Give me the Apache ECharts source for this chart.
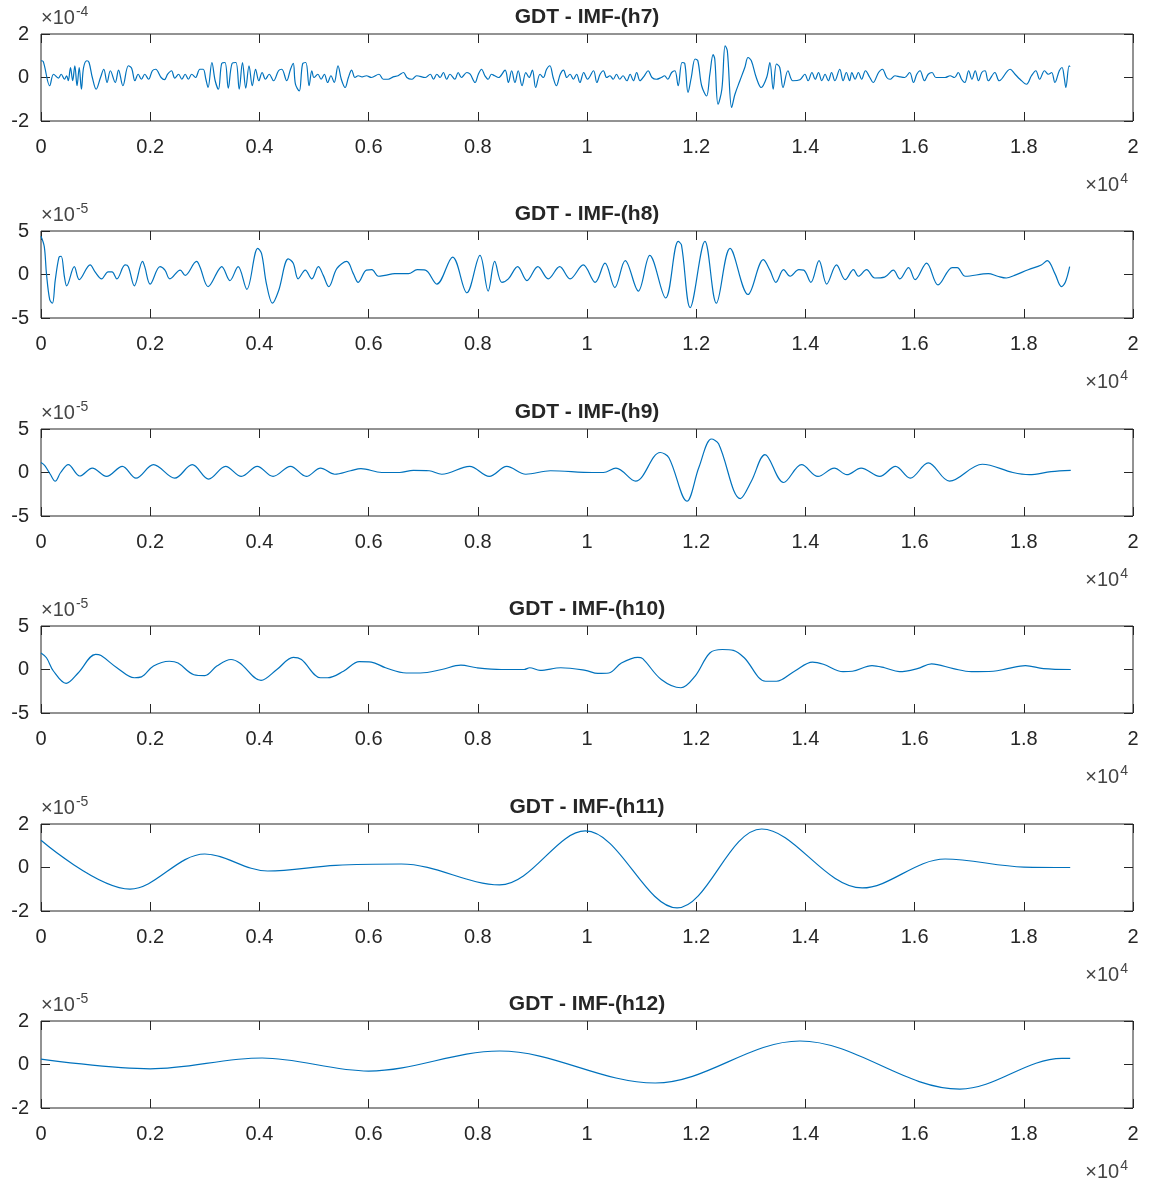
<!DOCTYPE html>
<html>
<head>
<meta charset="utf-8">
<title>GDT - IMF h7..h12</title>
<script src="https://cdn.jsdelivr.net/npm/echarts@6/dist/echarts.min.js"></script>
<style>
html, body { margin: 0; padding: 0; background: #fff; }
#chart { width: 1154px; height: 1187px; }
</style>
</head>
<body>
<div id="chart"></div>
<script>
// x in units of 1e4 samples, y in the units shown on each axis (x1e-4 or x1e-5)
const titles = ['GDT - IMF-(h7)', 'GDT - IMF-(h8)', 'GDT - IMF-(h9)', 'GDT - IMF-(h10)', 'GDT - IMF-(h11)', 'GDT - IMF-(h12)'];
const yExponents = ['-4', '-5', '-5', '-5', '-5', '-5'];
const yLimits = [2, 5, 5, 5, 2, 2];
const xExponent = '4';

const h7 = [[0,0.77],[0.004,0.74],[0.016,-0.38],[0.023,0.15],[0.032,-0.03],[0.037,0.15],[0.043,-0.08],[0.047,0.08],[0.050,-0.15],[0.054,0.46],[0.058,-0.15],[0.062,0.54],[0.066,-0.38],[0.070,0.46],[0.074,-0.54],[0.078,0.46],[0.084,0.77],[0.088,0.69],[0.094,0],[0.101,-0.54],[0.109,0],[0.115,0.38],[0.121,-0.23],[0.127,0.31],[0.136,-0.23],[0.142,0.34],[0.150,-0.38],[0.160,0.54],[0.166,0.43],[0.172,-0.15],[0.178,0.15],[0.184,-0.08],[0.190,0.15],[0.197,-0.08],[0.204,0.31],[0.210,0.38],[0.220,0],[0.226,-0.1],[0.232,0.15],[0.239,0.31],[0.245,-0.03],[0.252,0.15],[0.258,-0.08],[0.264,0.15],[0.270,-0.08],[0.276,0.15],[0.283,0],[0.291,0.38],[0.297,0.38],[0.302,-0.08],[0.306,-0.46],[0.313,0.69],[0.319,-0.15],[0.325,-0.54],[0.331,0.65],[0.337,0.69],[0.343,-0.49],[0.350,0.65],[0.357,0.69],[0.363,-0.54],[0.369,0.69],[0.375,-0.49],[0.381,0.54],[0.387,-0.38],[0.393,0.38],[0.399,-0.15],[0.405,0.23],[0.411,-0.08],[0.418,0.15],[0.426,-0.15],[0.435,0.31],[0.441,0.38],[0.450,-0.15],[0.457,0.38],[0.462,0.65],[0.466,-0.31],[0.473,-0.62],[0.479,0.62],[0.485,0.69],[0.491,-0.38],
  [0.496,0.31],[0.500,0],[0.507,0.15],[0.513,-0.08],[0.519,0.15],[0.525,-0.23],[0.531,0.08],[0.537,-0.23],[0.544,0.54],[0.550,-0.08],[0.557,-0.46],[0.563,0],[0.569,0.34],[0.575,0],[0.581,0.08],[0.588,0.03],[0.596,0.08],[0.605,0],[0.619,0.15],[0.627,-0.08],[0.636,-0.08],[0.645,0.03],[0.654,0.08],[0.664,0.23],[0.670,0],[0.679,-0.08],[0.688,0.08],[0.704,0],[0.713,0.15],[0.719,-0.08],[0.725,0.15],[0.731,0],[0.737,0.23],[0.743,-0.08],[0.749,0.15],[0.758,-0.08],[0.764,0.23],[0.770,0],[0.780,0.23],[0.786,0.15],[0.795,-0.23],[0.801,0.15],[0.807,0.38],[0.813,0.08],[0.819,-0.08],[0.825,0.15],[0.831,0.08],[0.838,0],[0.850,0.34],[0.856,-0.23],[0.862,0.31],[0.868,-0.23],[0.874,0.31],[0.881,-0.38],[0.888,0.23],[0.894,0],[0.900,0.34],[0.906,-0.46],[0.914,0.15],[0.920,0],[0.926,0.38],[0.932,0.54],[0.938,0],[0.944,-0.38],[0.951,0.15],[0.957,0.34],[0.963,0],[0.969,0.15],[0.975,-0.08],[0.981,0.15],[0.987,-0.23],[0.994,0.23],
  [1.001,-0.08],[1.012,0.31],[1.018,-0.23],[1.024,0.15],[1.030,0.31],[1.036,0],[1.042,0.08],[1.048,-0.08],[1.054,0.15],[1.060,-0.08],[1.066,0.08],[1.073,-0.15],[1.079,0.15],[1.085,-0.15],[1.091,0.23],[1.097,-0.15],[1.105,0.08],[1.112,0.31],[1.119,0],[1.127,-0.08],[1.136,0],[1.142,0.08],[1.148,-0.08],[1.155,0.23],[1.161,0.31],[1.167,-0.38],[1.174,0.69],[1.179,0.65],[1.185,-0.69],[1.191,0],[1.198,0.85],[1.203,0.77],[1.210,-0.38],[1.219,-0.85],[1.225,0.15],[1.231,1.05],[1.234,0.85],[1.240,-1.23],[1.247,-0.54],[1.253,1.46],[1.257,1.23],[1.265,-1.38],[1.271,-0.77],[1.280,-0.15],[1.289,0.46],[1.295,0.92],[1.301,0.77],[1.310,0],[1.319,-0.46],[1.329,0],[1.335,0.69],[1.341,-0.54],[1.347,0.62],[1.353,0.46],[1.359,-0.46],[1.368,0.31],[1.377,-0.15],[1.390,-0.1],[1.399,0.15],[1.405,-0.15],[1.412,0.23],[1.418,-0.08],[1.424,0.23],[1.430,-0.15],[1.436,0.15],[1.442,-0.15],[1.448,0.23],[1.454,-0.15],[1.463,0.38],[1.469,-0.15],[1.475,0.23],[1.481,-0.15],
  [1.485,0.23],[1.491,-0.08],[1.497,0.23],[1.503,-0.08],[1.510,0.31],[1.518,0],[1.524,-0.23],[1.534,0.23],[1.541,0.38],[1.549,0],[1.555,-0.08],[1.564,0.08],[1.573,0.03],[1.582,0],[1.591,0.23],[1.598,-0.23],[1.604,0.15],[1.610,0.31],[1.618,-0.15],[1.625,0.15],[1.632,0.23],[1.639,0],[1.656,0],[1.665,0.08],[1.673,0],[1.680,0.23],[1.686,-0.08],[1.692,-0.23],[1.699,0.31],[1.705,-0.08],[1.711,0.31],[1.717,-0.15],[1.723,0.23],[1.729,0.31],[1.735,-0.15],[1.747,0.23],[1.755,-0.15],[1.775,0.38],[1.784,0.15],[1.793,-0.08],[1.805,-0.31],[1.814,0.08],[1.822,0.31],[1.829,-0.08],[1.838,0.31],[1.845,0.15],[1.851,0.23],[1.857,-0.23],[1.865,0.31],[1.870,0.46],[1.874,0],[1.877,-0.46],[1.883,0.54],[1.885,0.5]];

const h8 = [[0,4.4],[0.006,3.2],[0.010,0.1],[0.016,-2.9],[0.021,-3.3],[0.026,-0.7],[0.033,2.0],[0.037,2.1],[0.043,-0.3],[0.047,-1.3],[0.061,0.9],[0.070,-0.6],[0.090,1.1],[0.099,0.3],[0.111,-0.5],[0.123,0.3],[0.130,0.3],[0.139,-0.5],[0.154,1.1],[0.160,0.9],[0.171,-1.3],[0.186,1.5],[0.190,0.9],[0.200,-1.1],[0.218,0.9],[0.227,0.5],[0.236,-0.5],[0.255,0.5],[0.264,-0.1],[0.285,1.5],[0.291,0.9],[0.306,-1.4],[0.325,0.5],[0.331,0.9],[0.346,-0.7],[0.361,0.9],[0.377,-1.7],[0.397,3.0],[0.404,2.4],[0.413,-1.1],[0.424,-3.3],[0.435,-1.9],[0.453,1.8],[0.462,1.3],[0.471,-0.5],[0.484,0.5],[0.496,-0.5],[0.508,0.9],[0.517,-0.1],[0.527,-1.4],[0.542,0.7],[0.560,1.5],[0.572,0.1],[0.581,-0.9],[0.596,0.5],[0.606,0.55],[0.618,-0.2],[0.630,-0.1],
  [0.648,0.1],[0.673,0.1],[0.689,0.55],[0.704,0.5],[0.725,-1.1],[0.754,2.0],[0.780,-2.1],[0.804,2.2],[0.819,-1.9],[0.831,1.5],[0.844,-0.9],[0.856,-0.5],[0.873,0.9],[0.890,-0.7],[0.910,0.9],[0.929,-0.5],[0.950,0.9],[0.969,-0.5],[0.993,1.1],[1.015,-0.9],[1.033,1.3],[1.051,-1.5],[1.070,1.6],[1.094,-1.9],[1.115,2.2],[1.144,-2.7],[1.167,3.8],[1.173,3.4],[1.189,-3.8],[1.216,3.8],[1.237,-3.3],[1.262,3.0],[1.295,-2.3],
  [1.323,1.7],[1.335,0.5],[1.346,-0.9],[1.360,0.55],[1.372,-0.2],[1.388,0.55],[1.397,0.5],[1.410,-0.9],[1.425,1.6],[1.439,-1.1],[1.457,1.1],[1.473,-0.6],[1.488,0.55],[1.497,-0.2],[1.512,0.55],[1.527,-0.4],[1.545,-0.3],[1.561,0.5],[1.573,-0.5],[1.589,0.8],[1.601,-0.6],[1.622,1.3],[1.643,-1.2],[1.669,0.8],[1.678,0.8],[1.693,-0.2],[1.735,0.1],[1.752,-0.2],[1.768,-0.4],[1.783,-0.1],[1.808,0.55],[1.832,1.1],[1.843,1.6],[1.857,0.1],[1.869,-1.4],[1.876,-0.9],[1.884,0.9]];

const h9 = [[0,1.15],[0.007,0.8],[0.017,-0.2],[0.026,-1.0],[0.036,0],[0.050,0.9],[0.071,-0.4],[0.094,0.5],[0.120,-0.45],[0.149,0.7],[0.174,-0.65],[0.206,0.9],[0.245,-0.65],[0.277,0.9],[0.307,-0.75],[0.338,0.7],[0.367,-0.45],[0.396,0.7],[0.425,-0.45],[0.457,0.7],[0.486,-0.45],[0.512,0.5],[0.538,-0.2],[0.567,0.2],[0.586,0.45],[0.624,0],[0.657,0],[0.682,0.25],[0.711,0.2],[0.734,-0.2],[0.785,0.7],[0.821,-0.45],[0.853,0.7],[0.888,-0.2],[0.933,0.2],
  [1.010,0],[1.030,0],[1.053,0.5],[1.089,-1.0],[1.134,2.3],[1.150,1.7],[1.183,-3.3],[1.205,0.6],[1.228,3.85],[1.241,3.3],[1.281,-3.0],[1.301,-1.0],[1.326,2.05],[1.360,-1.15],[1.393,0.9],[1.423,-0.45],[1.453,0.5],[1.476,-0.25],[1.502,0.5],[1.536,-0.45],[1.565,0.7],[1.592,-0.65],[1.625,1.1],[1.664,-1.0],[1.724,0.95],[1.780,0],[1.810,-0.25],[1.850,0.1],[1.886,0.25]];

const h10 = [[0,1.9],[0.010,1.35],[0.023,-0.2],[0.046,-1.6],[0.068,-0.4],[0.100,1.75],[0.110,1.6],[0.139,0.2],[0.171,-0.95],[0.184,-0.85],[0.206,0.4],[0.235,0.95],[0.251,0.75],[0.280,-0.6],[0.300,-0.7],[0.322,0.4],[0.348,1.15],[0.364,0.75],[0.403,-1.25],[0.432,0],[0.462,1.4],[0.477,1.15],[0.512,-0.95],[0.525,-0.95],[0.554,-0.2],[0.583,0.9],[0.605,0.85],[0.631,0.2],[0.669,-0.4],[0.695,-0.4],[0.734,0],[0.769,0.5],[0.798,0.2],[0.843,0],[0.885,0],[0.895,0.2],[0.914,-0.1],[0.952,0.2],
  [0.997,-0.1],[1.020,-0.45],[1.040,-0.4],[1.063,0.75],[1.093,1.4],[1.102,1.25],[1.136,-1.15],[1.172,-2.1],[1.198,-0.75],[1.225,1.9],[1.248,2.3],[1.268,2.2],[1.288,1.35],[1.327,-1.35],[1.347,-1.35],[1.380,-0.2],[1.413,0.85],[1.433,0.6],[1.469,-0.25],[1.486,-0.2],[1.522,0.45],[1.545,0.2],[1.572,-0.25],[1.605,0.1],[1.631,0.65],[1.671,0.1],[1.704,-0.25],[1.744,-0.2],[1.770,0.1],[1.803,0.45],[1.836,0.1],[1.886,0]];

const h11 = [[0,1.25],[0.163,-0.99],[0.30,0.62],[0.415,-0.16],[0.54,0.1],[0.66,0.16],[0.84,-0.8],[0.997,1.68],[1.165,-1.86],[1.32,1.77],[1.504,-0.94],[1.656,0.39],[1.80,0.02],[1.885,0]];

const h12 = [[0,0.25],[0.2,-0.2],[0.405,0.3],[0.60,-0.3],[0.84,0.62],[1.125,-0.85],[1.39,1.08],[1.683,-1.13],[1.87,0.28],[1.885,0.28]];

const allSeries = [h7, h8, h9, h10, h11, h12];

const chart = echarts.init(document.getElementById('chart'));
const axisColor = '#262626';
const font = 'Liberation Sans, Arial, Helvetica, sans-serif';
const gridLeft = 41, gridWidth = 1092, gridHeight = 87, firstTop = 34, step = 197.4;

const grids = [], xAxes = [], yAxes = [], series = [], graphics = [];
for (let i = 0; i < 6; i++) {
    const top = Math.round(firstTop + i * step);
    const lim = yLimits[i];
    grids.push({
        left: gridLeft, top: top, width: gridWidth, height: gridHeight,
        show: true, borderColor: axisColor, borderWidth: 1
    });
    const tick = { show: true, inside: true, length: 9, lineStyle: { color: axisColor, width: 1 } };
    const noLine = { show: false, onZero: false };
    // bottom axis with labels, top axis only mirrors the ticks
    xAxes.push({
        gridIndex: i, type: 'value', min: 0, max: 2, interval: 0.2, position: 'bottom',
        axisLine: noLine, axisTick: tick, splitLine: { show: false },
        axisLabel: { color: axisColor, fontSize: 20, fontFamily: font, margin: 16 }
    });
    xAxes.push({
        gridIndex: i, type: 'value', min: 0, max: 2, interval: 0.2, position: 'top',
        axisLine: noLine, axisTick: tick, splitLine: { show: false },
        axisLabel: { show: false }
    });
    yAxes.push({
        gridIndex: i, type: 'value', min: -lim, max: lim, interval: lim, position: 'left',
        axisLine: noLine, axisTick: tick, splitLine: { show: false },
        axisLabel: { color: axisColor, fontSize: 20, fontFamily: font, margin: 12 }
    });
    yAxes.push({
        gridIndex: i, type: 'value', min: -lim, max: lim, interval: lim, position: 'right',
        axisLine: noLine, axisTick: tick, splitLine: { show: false },
        axisLabel: { show: false }
    });
    series.push({
        type: 'line', xAxisIndex: 2 * i, yAxisIndex: 2 * i,
        data: allSeries[i], showSymbol: false, smooth: 0.35,
        lineStyle: { color: '#0072BD', width: 1.2 },
        animation: false
    });

    // title
    graphics.push({
        type: 'text', x: gridLeft + gridWidth / 2, y: top - 17,
        style: {
            text: titles[i], fill: axisColor, align: 'center', verticalAlign: 'middle',
            font: 'bold 21px ' + font
        }
    });
    // y exponent (top left)
    graphics.push({
        type: 'text', x: gridLeft, y: top - 6,
        style: {
            text: '{b|×10}{s|' + yExponents[i] + '}', align: 'left', verticalAlign: 'bottom',
            rich: {
                b: { fontSize: 20, fontFamily: font, fill: '#444', verticalAlign: 'bottom' },
                s: { fontSize: 14, fontFamily: font, fill: '#444', verticalAlign: 'bottom', padding: [0, 0, 9, 1] }
            }
        }
    });
    // x exponent (bottom right)
    graphics.push({
        type: 'text', x: gridLeft + gridWidth - 5, y: top + gridHeight + 74,
        style: {
            text: '{b|×10}{s|' + xExponent + '}', align: 'right', verticalAlign: 'bottom',
            rich: {
                b: { fontSize: 20, fontFamily: font, fill: '#444', verticalAlign: 'bottom' },
                s: { fontSize: 14, fontFamily: font, fill: '#444', verticalAlign: 'bottom', padding: [0, 0, 9, 1] }
            }
        }
    });
}

chart.setOption({
    animation: false,
    backgroundColor: '#fff',
    grid: grids,
    xAxis: xAxes,
    yAxis: yAxes,
    series: series,
    graphic: graphics
});
</script>
</body>
</html>
